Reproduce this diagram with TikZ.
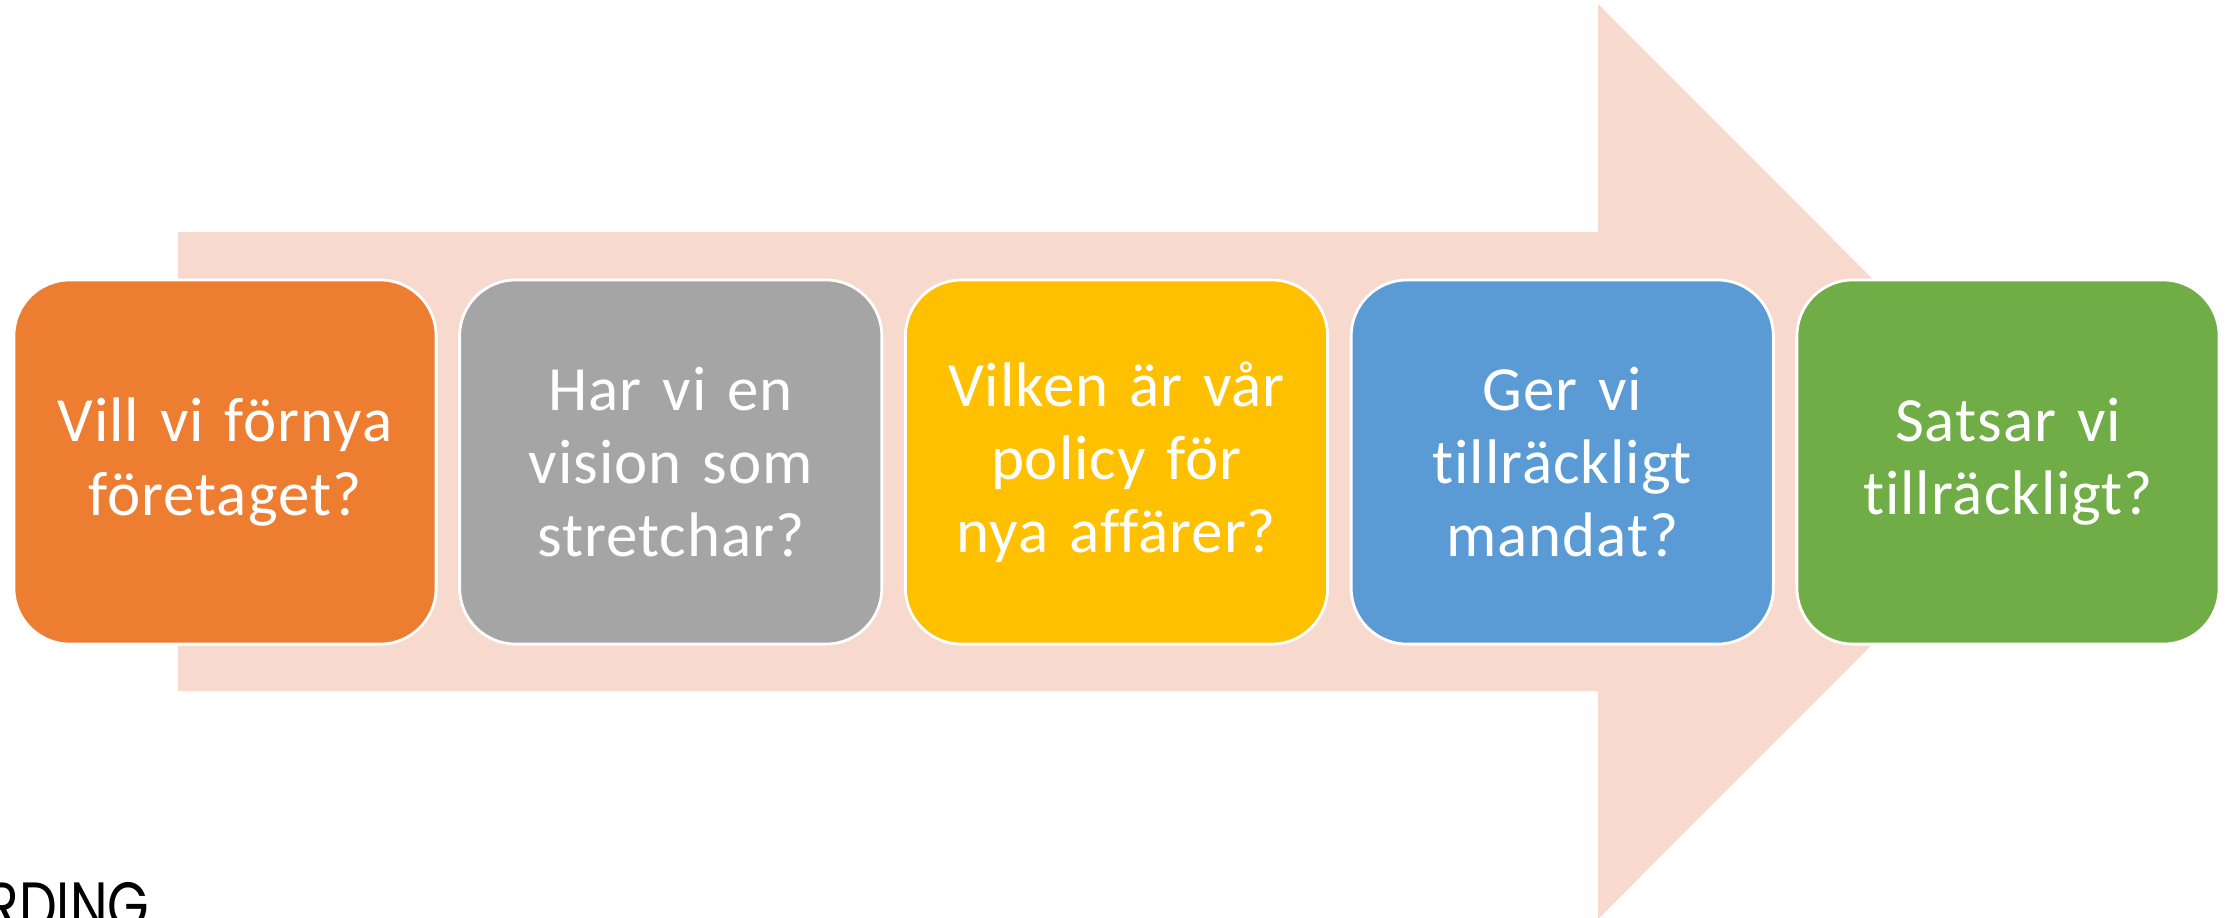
\documentclass[tikz,border=0pt]{standalone}
\usepackage{fontspec}
\setmainfont{Carlito}[Ligatures={NoCommon}, LetterSpace=1.5]
\newfontfamily\logofont{Poppins}
\definecolor{arrowbg}{RGB}{247,217,206}
\definecolor{c1}{RGB}{237,125,49}
\definecolor{c2}{RGB}{165,165,165}
\definecolor{c3}{RGB}{255,192,0}
\definecolor{c4}{RGB}{91,155,213}
\definecolor{c5}{RGB}{112,173,71}
\tikzset{
  stepbox/.style={draw=white, line width=0.8pt, rounded corners=0.56cm,
    minimum width=4.22cm, minimum height=3.64cm, text width=4.1cm, align=center,
    text=white, font=\fontsize{17.9pt}{20.8pt}\selectfont, inner sep=0pt},
}
\begin{document}
\begin{tikzpicture}[x=0.01cm,y=-0.01cm]
\useasboundingbox (0,0) rectangle (2233,917);
\begin{scope}
\clip (0,0) rectangle (2233,917);
\fill[arrowbg] (178,232) -- (1598,232) -- (1598,4) -- (2055,461.5) -- (1598,919) -- (1598,691) -- (178,691) -- cycle;
\node[stepbox, fill=c1] (b1) at (225,462) {Vill vi förnya\\företaget?};
\node[stepbox, fill=c2] (b2) at (670.75,462) {Har vi en\\vision som\\stretchar?};
\node[stepbox, fill=c3] (b3) at (1116.5,462) {Vilken är vår\\policy för\\nya affärer?};
\node[stepbox, fill=c4] (b4) at (1562.25,462) {Ger vi\\tillräckligt\\mandat?};
\node[stepbox, fill=c5] (b5) at (2008,462) {Satsar vi\\tillräckligt?};
\node[anchor=base west, inner sep=0pt, xscale=0.8, font=\logofont\fontsize{19pt}{19pt}\selectfont, text=black] (logo) at (-14,929) {RDING};
\end{scope}
\end{tikzpicture}
\end{document}
